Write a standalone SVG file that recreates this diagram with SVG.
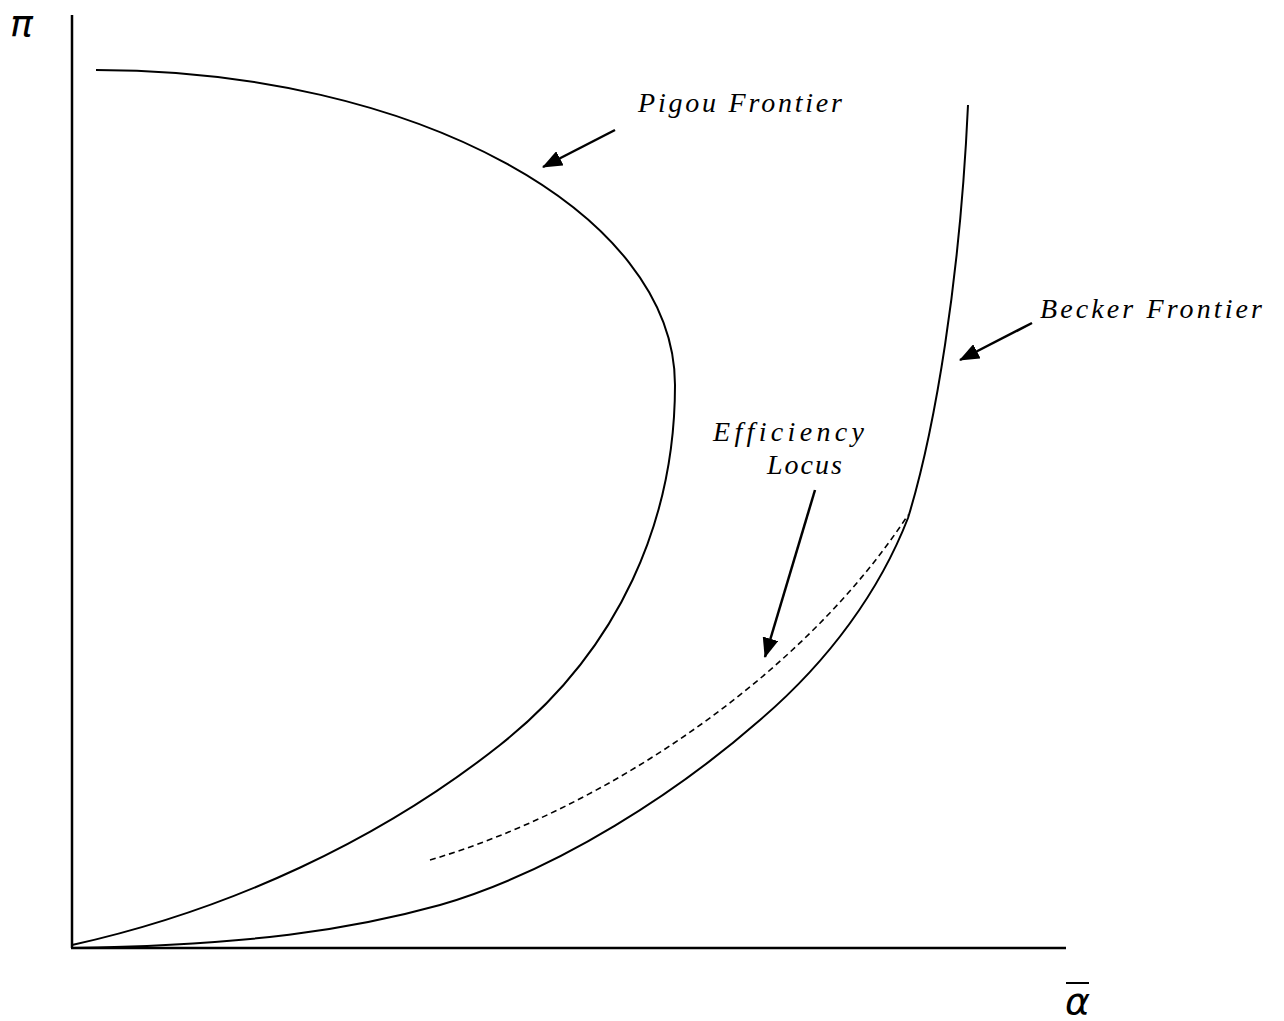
<svg xmlns="http://www.w3.org/2000/svg" width="1284" height="1021" viewBox="0 0 1284 1021">
<defs>
<style>
.ax{stroke:#000;stroke-width:2.5;fill:none}
.cv{stroke:#000;stroke-width:2;fill:none}
.ds{stroke:#000;stroke-width:1.6;fill:none;stroke-dasharray:6 4}
.ar{stroke:#000;stroke-width:2.5;fill:none;marker-end:url(#ah)}
.lb{font-family:"Liberation Serif","DejaVu Serif",serif;font-style:italic;font-size:28px;fill:#000}
.sym{font-family:"DejaVu Sans","Liberation Sans",sans-serif;font-style:italic;font-size:38px;fill:#000}
</style>
<marker id="ah" viewBox="0 0 20 16" refX="19" refY="8" markerWidth="20" markerHeight="16" markerUnits="userSpaceOnUse" orient="auto"><path d="M0,0 L20,8 L0,16 z" fill="#000"/></marker>
</defs>
<g id="axes">
<line class="ax" x1="72" y1="15" x2="72" y2="948"/>
<line class="ax" x1="71" y1="948" x2="1066" y2="948"/>
<text class="sym" x="10" y="36">π</text>
<text class="sym" x="1065" y="1014">α</text>
<line x1="1066" y1="983" x2="1089" y2="983" stroke="#000" stroke-width="2"/>
</g>
<g id="pigou">
<path class="cv" d="M96,70 C414,70 675,212 675,385 C675,520 620,650 500,745 C380,840 230,910 72,945"/>
<text class="lb" x="638" y="112" textLength="204" lengthAdjust="spacing">Pigou Frontier</text>
</g>
<g id="becker">
<path class="cv" d="M72,948 C250,945 350,930 440,905 C560,870 680,790 760,720 C830,660 880,590 908,518 C935,430 960,280 968,105"/>
<text class="lb" x="1040" y="318" textLength="222" lengthAdjust="spacing">Becker Frontier</text>
</g>
<g id="efficiency">
<path class="ds" d="M430,860 C600,810 800,680 908,515"/>
<text class="lb" x="713" y="441" textLength="151" lengthAdjust="spacing">Efficiency</text>
<text class="lb" x="767" y="474" textLength="75" lengthAdjust="spacing">Locus</text>
</g>
<g id="connectors">
<line class="ar" x1="615" y1="130" x2="543" y2="167"/>
<line class="ar" x1="1032" y1="323" x2="960" y2="360"/>
<line class="ar" x1="815" y1="490" x2="765" y2="657"/>
</g>
</svg>
